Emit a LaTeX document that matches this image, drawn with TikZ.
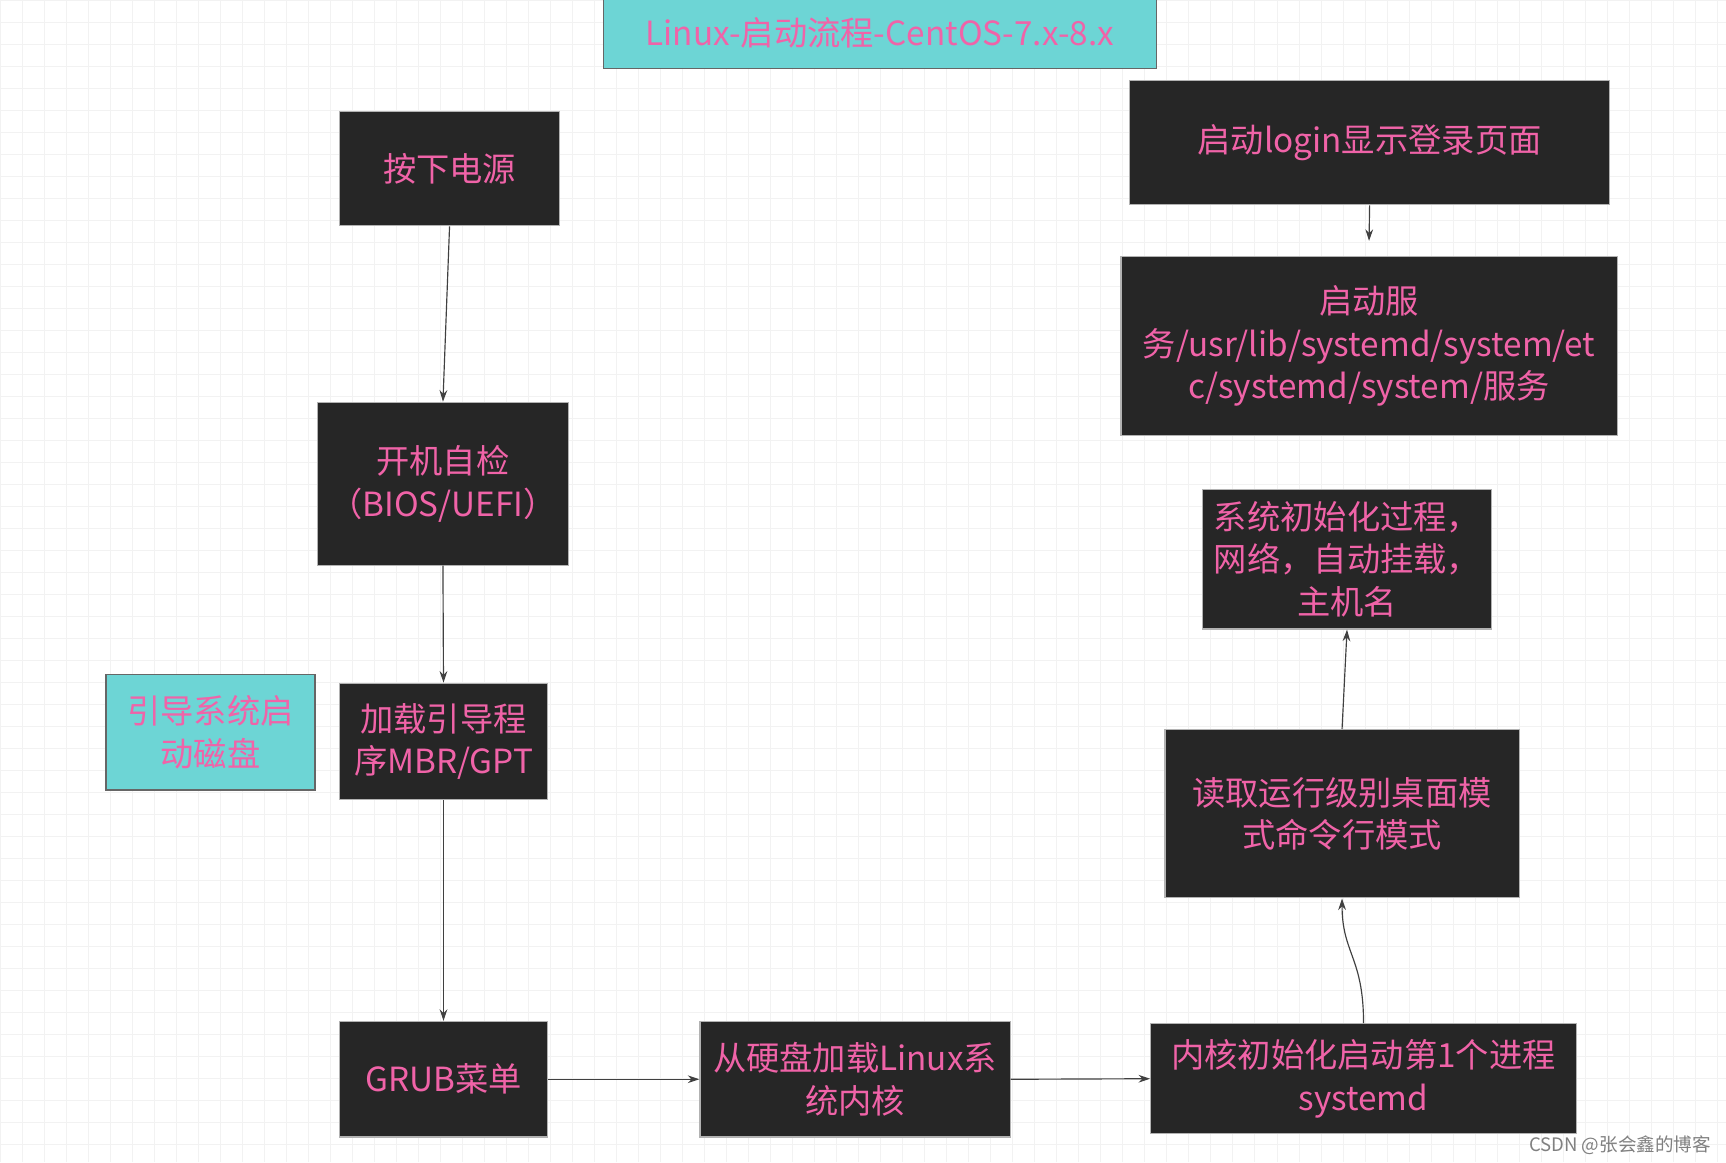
\documentclass[tikz,border=0pt]{standalone}
\usepackage{fontspec}
\setmainfont{Noto Sans CJK SC}
\usetikzlibrary{arrows.meta}
\definecolor{boxbg}{HTML}{262626}
\definecolor{pinktxt}{HTML}{F063A8}
\definecolor{cyanbg}{HTML}{6DD5D5}
\tikzset{
 box/.style={fill=boxbg,draw=gray!60,line width=0.3pt,text=pinktxt,font=\fontsize{8.6pt}{11pt}\selectfont,align=center,inner sep=0pt},
 cbox/.style={box,fill=cyanbg,draw=gray!80!black},
 conn/.style={draw=black!75,line width=0.3pt,-{Stealth[length=3pt,width=2pt]}}
}
\newcommand{\bx}[6]{\node[#1,minimum width=#4*0.01cm-#2*0.01cm,minimum height=#5*0.01cm-#3*0.01cm] (#6) at ({(#2+#4)*0.005},{-(#3+#5)*0.005})}
\begin{document}
\begin{tikzpicture}
\useasboundingbox (0,0) rectangle (15.68,-10.56);
\fill[white] (0,0) rectangle (15.68,-10.56);
\draw[gray!10,line width=0.2pt,step=0.2] (0,-10.56) grid (15.68,0);
\bx{cbox}{547}{-2}{1050}{62}{t} {Linux-启动流程-CentOS-7.x-8.x};
\bx{box}{308}{101}{508}{205}{a} {按下电源};
\bx{box}{288}{365}{516}{513}{b} {开机自检\\（BIOS/UEFI）};
\bx{box}{308}{620}{497}{726}{c} {加载引导程\\序MBR/GPT};
\bx{cbox}{96}{612}{286}{717}{s} {引导系统启\\动磁盘};
\bx{box}{308}{927}{497}{1032}{d} {GRUB菜单};
\bx{box}{635}{927}{917}{1032}{e} {从硬盘加载Linux系\\统内核};
\bx{box}{1044}{929}{1431}{1029}{f} {内核初始化启动第1个进程\\systemd};
\bx{box}{1057}{662}{1379}{815}{g} {读取运行级别桌面模\\式命令行模式};
\bx{box}{1091}{444}{1354}{571}{h} {系统初始化过程，\\网络，自动挂载，\\主机名};
\bx{box}{1017}{233}{1468}{395}{i} {启动服\\务/usr/lib/systemd/system/et\\c/systemd/system/服务};
\bx{box}{1025}{73}{1461}{186}{j} {启动login显示登录页面};
\node[text=gray,font=\fontsize{4.8pt}{6pt}\selectfont,anchor=south east,inner sep=0pt] (w) at (15.55,-10.5) {CSDN @张会鑫的博客};
\draw[conn] (a.south) -- (b.north);
\draw[conn] (b.south) -- (c.north);
\draw[conn] (c.south) -- (d.north);
\draw[conn] (d.east) -- (e.west);
\draw[conn] (e.east) -- (f.west);
\draw[conn] (f.north) .. controls +(0,0.6) and +(0,-0.5) .. (g.south);
\draw[conn] (g.north) -- (h.south);
\draw[conn] (j.south) -- ([yshift=1.4mm]i.north);
\end{tikzpicture}
\end{document}
